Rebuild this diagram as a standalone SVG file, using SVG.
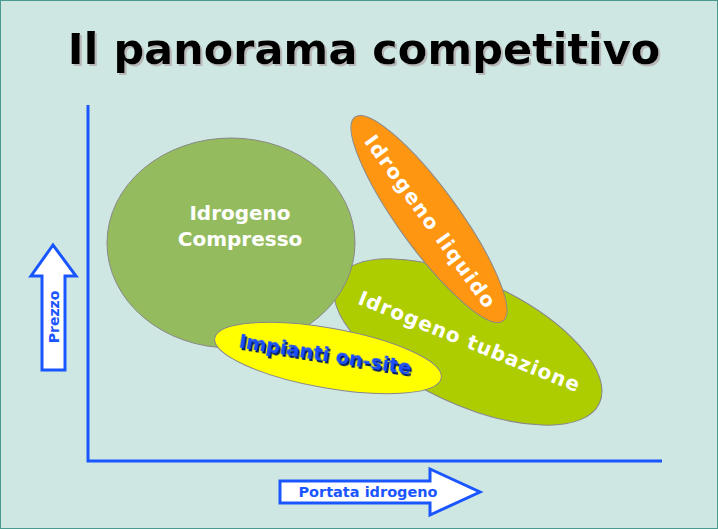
<svg xmlns="http://www.w3.org/2000/svg" width="718" height="529" viewBox="0 0 718 529">
<defs>
<style>
.t{font-family:"DejaVu Sans",Verdana,sans-serif;font-weight:bold;text-anchor:middle}
.w{fill:#fff;font-size:20px}
.e{stroke:#888;stroke-width:1}
.ax{fill:#fff;stroke:#1a56ff;stroke-width:3}
</style>
<filter id="sh" x="-5%" y="-20%" width="110%" height="140%">
<feDropShadow dx="2" dy="2" stdDeviation="0" flood-color="#b8b8b8"/>
</filter>
<filter id="sh2" x="-5%" y="-20%" width="110%" height="140%">
<feDropShadow dx="2" dy="2" stdDeviation="0" flood-color="#001a66"/>
</filter>
</defs>
<rect x="0.5" y="0.5" width="717" height="528" fill="#cfe7e3" stroke="#4a9a90"/>
<text class="t" x="364" y="64" font-size="43" fill="#000" filter="url(#sh)">Il panorama competitivo</text>
<g id="axes" fill="none" stroke="#1a56ff" stroke-width="3">
<path d="M88,105 V461 H662"/>
</g>
<g id="prezzo">
<path class="ax" d="M42,370 V276 H31 L53,245 L76,276 H65 V370 Z" stroke-width="2"/>
<text class="t" transform="translate(59,317) rotate(-90)" font-size="14" fill="#1a56ff">Prezzo</text>
</g>
<g id="portata">
<path class="ax" d="M280,481 H430 V469 L480,492 L430,515 V503 H280 Z" stroke-width="2"/>
<text class="t" x="368" y="497" font-size="14.5" fill="#1a56ff">Portata idrogeno</text>
</g>
<g id="tubazione">
<ellipse class="e" cx="468" cy="342" rx="145" ry="62" transform="rotate(25 468 342)" fill="#aecd00"/>
<text class="t w" transform="translate(467,348) rotate(22)" letter-spacing="1">Idrogeno tubazione</text>
</g>
<g id="liquido">
<ellipse class="e" cx="429" cy="219" rx="126" ry="30" transform="rotate(54 429 219)" fill="#ff9612"/>
<text class="t w" transform="translate(425,226) rotate(54)" letter-spacing="1.5">Idrogeno liquido</text>
</g>
<g id="compresso">
<ellipse class="e" cx="231" cy="243" rx="124" ry="105" fill="#94bc5e"/>
<text class="t w" x="240" y="220">Idrogeno</text>
<text class="t w" x="240" y="246">Compresso</text>
</g>
<g id="onsite">
<ellipse class="e" cx="328" cy="358" rx="115" ry="30" transform="rotate(10 328 358)" fill="#ffff00"/>
<text class="t" transform="translate(324,361) rotate(9)" font-size="19.5" fill="#1a4dff" filter="url(#sh2)">Impianti on-site</text>
</g>
</svg>
